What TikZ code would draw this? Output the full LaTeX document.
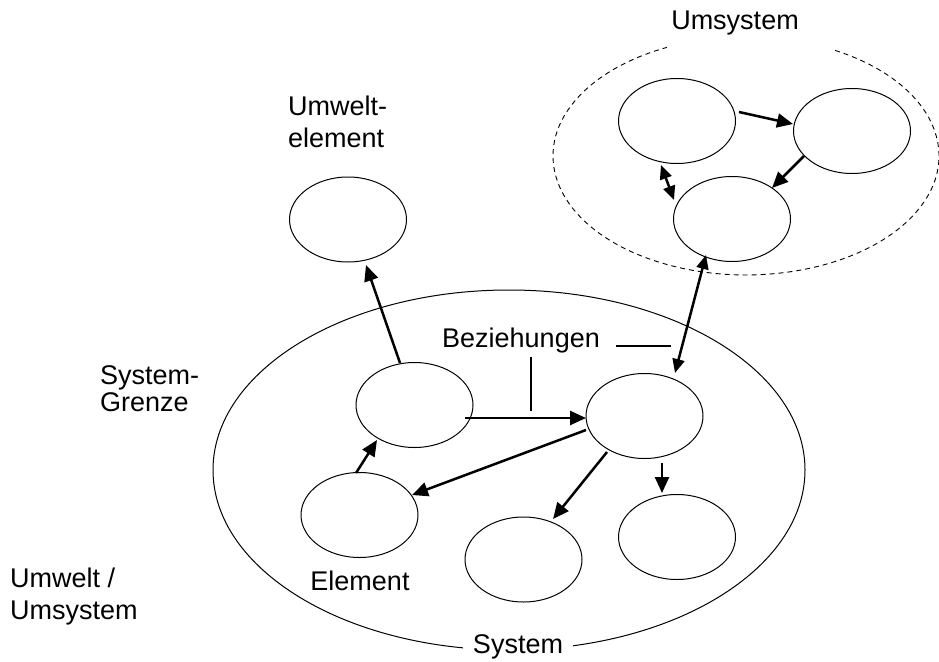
\documentclass[tikz,border=0pt]{standalone}
\usepackage{fontspec}
\setmainfont{Liberation Sans}
\usetikzlibrary{shapes.geometric,arrows.meta,calc}
\begin{document}
\begin{tikzpicture}[x=1pt,y=-1pt,
  elem/.style={draw,ellipse,line width=1pt,minimum width=117pt,minimum height=85pt,inner sep=0pt,outer sep=0pt},
  rel/.style={line width=2.5pt,-{Triangle[length=16pt,width=14pt]}},
  relboth/.style={line width=2.5pt,{Triangle[length=14pt,width=12pt]}-{Triangle[length=14pt,width=12pt]}},
  lbl/.style={font=\fontsize{27}{32}\selectfont,inner sep=0pt},
  callout/.style={line width=1.5pt},
  umsys/.style={line width=0.9pt,dash pattern=on 5pt off 4pt}]
\useasboundingbox (0,0) rectangle (939,661);

% system boundary
\node[draw,ellipse,line width=1pt,minimum width=592pt,minimum height=360pt,inner sep=0pt,outer sep=0pt] (sys) at (509,470) {};

% surrounding system (dashed, open at the top)
\draw[umsys] (835.1,50.4) arc[start angle=297.5,end angle=605.8,x radius=193,y radius=119];

% elements
\node[elem] (uel) at (348,219.5) {};
\node[elem] (e1) at (414.5,405) {};
\node[elem] (e2) at (644.5,416) {};
\node[elem] (el) at (359.5,515) {};
\node[elem] (bm) at (523.5,559.5) {};
\node[elem] (br) at (677,537) {};
\node[elem] (a) at (677,121) {};
\node[elem] (b) at (852,131) {};
\node[elem] (c) at (732,219) {};

% labels
\node[lbl,anchor=base] (umsysT) at (735,30) {Umsystem};
\node[lbl,anchor=base west] (uelT1) at (288,115) {Umwelt-};
\node[lbl,anchor=base west] (uelT2) at (288,147) {element};
\node[lbl,anchor=base west] (sgT1) at (100,384) {System-};
\node[lbl,anchor=base west] (sgT2) at (100,411) {Grenze};
\node[lbl,anchor=base west] (uwT1) at (10,587) {Umwelt /};
\node[lbl,anchor=base west] (uwT2) at (10,619) {Umsystem};
\node[lbl,anchor=base] (bez) at (521,347) {Beziehungen};
\node[lbl,anchor=base] (elT) at (360,590) {Element};
\node[lbl,anchor=base,fill=white,inner xsep=10pt,inner ysep=4pt] (sysT) at (518,653) {System};

% callout strokes of "Beziehungen"
\draw[callout] ($(bez.base)+(10,10)$) -- ($(bez.base)+(10,64)$);
\draw[callout] ($(bez.base east)+(16,-1)$) -- ($(bez.base east)+(71,-1)$);

% relations
\draw[rel] ($(e1)+(50.5,13)$) -- ($(e2)+(-58.5,2)$);
\draw[rel] ($(e1)+(-14.5,-42)$) -- ($(uel)+(18,45.5)$);
\draw[rel] ($(el)+(-3.5,-42)$) -- ($(e1)+(-37.5,35)$);
\draw[rel] ($(e2)+(-58.5,14)$) -- ($(el)+(52.5,-20)$);
\draw[rel] ($(e2)+(-37.5,36)$) -- ($(bm)+(29.5,-40.5)$);
\draw[rel] ($(e2)+(17.5,47)$) -- ($(br)+(-15,-44)$);
\draw[relboth] ($(e2)+(30.5,-43)$) -- ($(c)+(-26,36)$);
\draw[rel] ($(a)+(62,-9)$) -- ($(b)+(-59,-7)$);
\draw[rel] ($(b)+(-48,25)$) -- ($(c)+(40,-31)$);
\draw[relboth] ($(a)+(-16,44)$) -- ($(c)+(-58,-19)$);
\end{tikzpicture}
\end{document}
